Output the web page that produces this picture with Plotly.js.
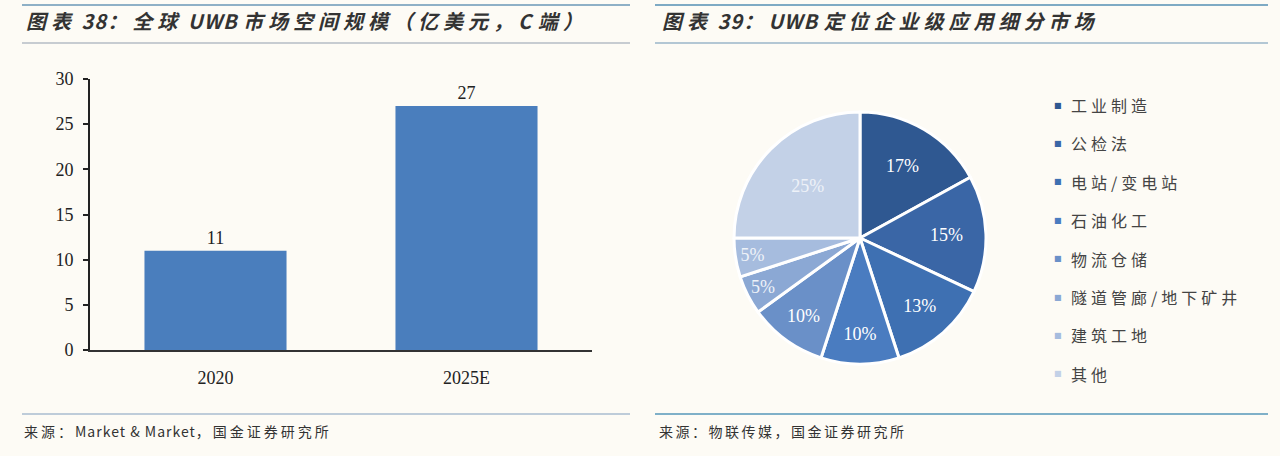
<!DOCTYPE html>
<html>
<head>
<meta charset="utf-8">
<script src="https://cdn.plot.ly/plotly-3.0.1.min.js"></script>
<style>
html,body{margin:0;padding:0;background:#fdfbf5;}
#chart{width:1280px;height:456px;}
</style>
</head>
<body>
<div id="chart"></div>
<script>
// ---- data ----
const barCategories = ['2020', '2025E'];
const barValues = [11, 27];
const yTickValues = [0, 5, 10, 15, 20, 25, 30];

const pieLabels = ['工业制造', '公检法', '电站/变电站', '石油化工', '物流仓储', '隧道管廊/地下矿井', '建筑工地', '其他'];
const pieValues = [17, 15, 13, 10, 10, 5, 5, 25];
const pieColors = ['#2f5891', '#3a66a6', '#3e70b2', '#4a7cc0', '#6a90c8', '#8ba8d4', '#a6bcde', '#c3d1e7'];

const title1 = '图表 38：全球 UWB 市场空间规模（亿美元，C 端）';
const title2 = '图表 39：UWB 定位企业级应用细分市场';
const source1 = '来源：Market & Market，国金证券研究所';
const source2 = '来源：物联传媒，国金证券研究所';

const W = 1280, H = 456;
const px = x => x / W;
const py = y => 1 - y / H;

const serif = 'Liberation Serif, Times New Roman, serif';
const cjk = 'Noto Sans CJK SC, sans-serif';
// wide spacing for CJK runs, tight for Latin runs
const spaced = (t, ls, lsLatin) => {
  const runs = t.match(/[\x20-\x7e]+|[^\x20-\x7e]+/g) || [];
  return runs.map(r => {
    const latin = /^[\x20-\x7e]+$/.test(r);
    const s = latin ? (lsLatin || 0) : ls;
    return '<span style="letter-spacing:' + s + 'px">' + r.replace(/&/g, '&amp;') + '</span>';
  }).join('');
};

const bar = {
  type: 'bar',
  x: barCategories,
  y: barValues,
  marker: {color: '#4a7ebd', line: {width: 0}},
  text: barValues.map(String),
  textposition: 'outside',
  textfont: {family: serif, size: 18, color: '#222'},
  cliponaxis: false,
  hoverinfo: 'x+y',
  showlegend: false,
  xaxis: 'x', yaxis: 'y'
};

const pie = {
  type: 'pie',
  labels: pieLabels,
  values: pieValues,
  sort: false,
  direction: 'clockwise',
  rotation: 0,
  marker: {colors: pieColors, line: {color: '#ffffff', width: 3}},
  texttemplate: '%{value}%',
  textposition: 'inside',
  insidetextorientation: 'horizontal',
  textfont: {family: serif, size: 18, color: pieColors.map((c, i) => i >= 5 ? '#eef2f8' : '#ffffff')},
  showlegend: false,
  domain: {x: [px(860 - 126), px(860 + 126)], y: [py(238 + 126), py(238 - 126)]}
};

const annotations = [
  {text: spaced(title1, 5, 1), x: px(24), y: py(21), xref: 'paper', yref: 'paper', xanchor: 'left', yanchor: 'middle', showarrow: false,
   font: {family: cjk, size: 20, color: '#333', style: 'italic', weight: 600}},
  {text: spaced(title2, 5, 1), x: px(660), y: py(21), xref: 'paper', yref: 'paper', xanchor: 'left', yanchor: 'middle', showarrow: false,
   font: {family: cjk, size: 20, color: '#333', style: 'italic', weight: 600}},
  {text: spaced(source1, 3, 1), x: px(22), y: py(431), xref: 'paper', yref: 'paper', xanchor: 'left', yanchor: 'middle', showarrow: false,
   font: {family: cjk, size: 14, color: '#333'}},
  {text: spaced(source2, 2.5, 1), x: px(657), y: py(431), xref: 'paper', yref: 'paper', xanchor: 'left', yanchor: 'middle', showarrow: false,
   font: {family: cjk, size: 14, color: '#333'}}
];

// legend built from pie labels/colors
pieLabels.forEach((lab, i) => {
  const yy = 105 + i * 38.4;
  annotations.push({
    text: '■', x: px(1058), y: py(yy), xref: 'paper', yref: 'paper', xanchor: 'center', yanchor: 'middle',
    showarrow: false, font: {family: 'DejaVu Sans', size: 8, color: pieColors[i]}
  });
  annotations.push({
    text: spaced(lab, 4, 4), x: px(1069), y: py(yy), xref: 'paper', yref: 'paper', xanchor: 'left', yanchor: 'middle',
    showarrow: false, font: {family: cjk, size: 16, color: '#444'}
  });
});

const line = (x0, x1, y, color, w) => ({type: 'line', xref: 'paper', yref: 'paper',
  x0: px(x0), x1: px(x1), y0: py(y), y1: py(y), line: {color: color, width: w}});

const shapes = [
  line(22, 630, 5, '#8eb0c6', 2),
  line(22, 630, 43, '#b4bcc4', 1.5),
  line(655, 1268, 5, '#7eaac4', 2),
  line(655, 1268, 43, '#9ab6c8', 1.5),
  line(22, 630, 414, '#a9bccf', 1.5),
  line(655, 1268, 414, '#7fb0c8', 2)
];

const layout = {
  width: W, height: H,
  margin: {l: 0, r: 0, t: 0, b: 0},
  paper_bgcolor: '#fdfbf5',
  plot_bgcolor: 'rgba(0,0,0,0)',
  bargap: 0.434,
  xaxis: {
    domain: [px(90), px(592)],
    type: 'category',
    range: [-0.5, 1.5],
    showline: true, linecolor: '#333', linewidth: 2,
    ticks: '', showgrid: false, zeroline: false,
    tickfont: {family: serif, size: 18, color: '#222'},
    ticklabelstandoff: 10,
    fixedrange: true
  },
  yaxis: {
    domain: [py(350), py(79)],
    range: [0, 30],
    tickvals: yTickValues,
    showline: true, linecolor: '#222', linewidth: 2,
    ticks: 'outside', ticklen: 5, tickwidth: 2, tickcolor: '#222',
    showgrid: false, zeroline: false,
    tickfont: {family: serif, size: 18, color: '#222'},
    ticklabelstandoff: 6,
    fixedrange: true
  },
  annotations: annotations,
  shapes: shapes,
  showlegend: false
};

Plotly.newPlot('chart', [bar, pie], layout, {displayModeBar: false, staticPlot: true});
</script>
</body>
</html>
